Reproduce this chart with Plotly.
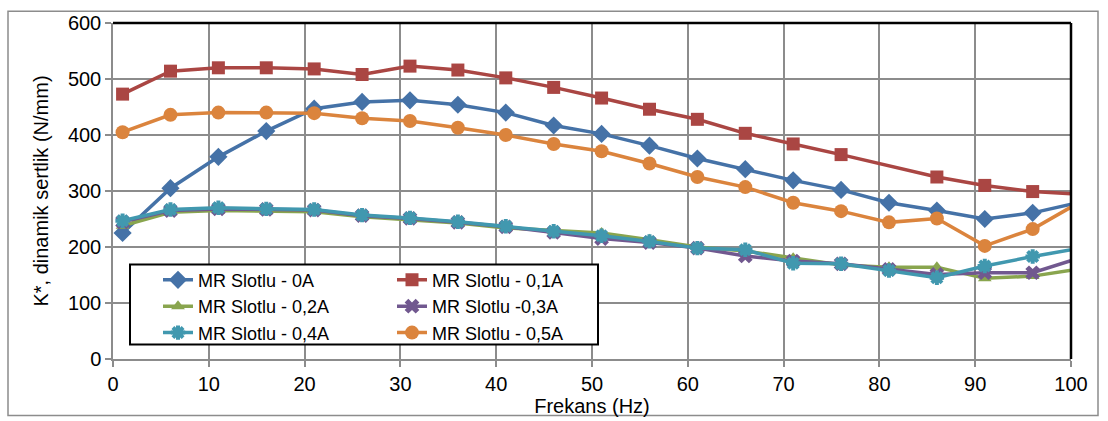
import plotly.graph_objects as go

# Frequency points (Hz); the last one lies just past the axis end and is clipped
frekans = [1, 6, 11, 16, 21, 26, 31, 36, 41, 46, 51, 56, 61, 66, 71, 76, 81, 86, 91, 96, 101]

# Dynamic stiffness K* (N/mm) for each current level
k_0A = [225, 305, 361, 407, 447, 459, 462, 454, 440, 417, 402, 381, 358, 339, 319, 302, 279, 265, 250, 261, 280]
k_01A = [473, 514, 520, 520, 518, 508, 523, 516, 502, 485, 466, 446, 428, 403, 384, 365, None, 325, 310, 299, 294]
k_02A = [238, 262, 265, 264, 263, 254, 249, 243, 234, 229, 225, 213, 200, 193, 180, 168, 164, 164, 144, 148, 161]
k_03A = [245, 265, 268, 267, 266, 256, 251, 244, 236, 226, 215, 208, 198, 184, 175, 170, 160, 151, 154, 154, 181]
k_04A = [247, 267, 270, 268, 267, 257, 252, 245, 237, 228, 220, 210, 198, 195, 171, 170, 158, 145, 166, 183, 198]
k_05A = [405, 436, 440, 440, 439, 430, 425, 413, 400, 384, 371, 349, 325, 307, 279, 264, 244, 251, 202, 232, 281]

series_names = ["MR Slotlu - 0A", "MR Slotlu - 0,1A", "MR Slotlu - 0,2A",
                "MR Slotlu -0,3A", "MR Slotlu - 0,4A", "MR Slotlu - 0,5A"]
series_values = [k_0A, k_01A, k_02A, k_03A, k_04A, k_05A]
series_colors = ["#4572A7", "#AA4643", "#89A54E", "#71588F", "#4198AF", "#DB843D"]
series_symbols = ["diamond", "square", "triangle-up", "x", "asterisk-open", "circle"]
series_sizes = [14, 13, 12, 13, 12, 14]
series_legend = ["legend", "legend2", "legend", "legend2", "legend", "legend2"]

FONT = "Liberation Sans, Arial, sans-serif"
W, H = 1108, 421
ML, MR, MT, MB = 113, 37, 14, 62
PW, PH = W - ML - MR, H - MT - MB


def px_x(p):
    return (p - ML) / PW


def px_y(p):
    return (H - MB - p) / PH


fig = go.Figure()
for name, vals, col, sym, size, leg in zip(series_names, series_values, series_colors,
                                          series_symbols, series_sizes, series_legend):
    marker = dict(symbol=sym, size=size, color=col)
    if sym == "asterisk-open":
        marker["line"] = dict(color=col, width=4)
    elif sym == "x":
        marker["line"] = dict(color=col, width=0)
    fig.add_trace(go.Scatter(
        x=frekans, y=vals, name=name, mode="lines+markers",
        line=dict(color=col, width=3.5), marker=marker,
        connectgaps=True, legend=leg,
    ))

grid_col = "#8c8c8c"
fig.update_xaxes(
    range=[0, 100], dtick=10, tick0=0, showgrid=True, gridcolor=grid_col, gridwidth=1.5,
    showline=True, linecolor=grid_col, linewidth=1.5, ticks="outside", ticklen=6,
    tickcolor=grid_col, tickwidth=1.5, zeroline=False,
    tickfont=dict(family=FONT, size=20, color="black"),
    title=dict(text="Frekans (Hz)", font=dict(family=FONT, size=20, color="black"), standoff=0),
)
fig.update_yaxes(
    range=[0, 600], dtick=100, showgrid=True, gridcolor=grid_col, gridwidth=1.5,
    showline=True, linecolor=grid_col, linewidth=1.5, ticks="outside", ticklen=6,
    tickcolor=grid_col, tickwidth=1.5, zeroline=False,
    tickfont=dict(family=FONT, size=20, color="black"),
    title=dict(text="K*, dinamik sertlik (N/mm)", font=dict(family=FONT, size=20, color="black"), standoff=14),
)

legend_style = dict(xanchor="left", yanchor="top", bgcolor="rgba(0,0,0,0)",
                    font=dict(family=FONT, size=18, color="black"), tracegroupgap=0,
                    borderwidth=0)
fig.update_layout(
    width=W, height=H, margin=dict(l=ML, r=MR, t=MT, b=MB),
    paper_bgcolor="white", plot_bgcolor="white",
    legend=dict(x=px_x(158), y=px_y(259), **legend_style),
    legend2=dict(x=px_x(392), y=px_y(259), **legend_style),
    shapes=[
        # outer chart border
        dict(type="rect", xref="paper", yref="paper", x0=px_x(8), x1=px_x(1098),
             y0=px_y(417), y1=px_y(2), line=dict(color="#8c8c8c", width=1.5), layer="below"),
        # plot frame top and right
        dict(type="line", xref="paper", yref="paper", x0=0, x1=1, y0=1, y1=1,
             line=dict(color="black", width=2.5)),
        dict(type="line", xref="paper", yref="paper", x0=1, x1=1, y0=0, y1=1,
             line=dict(color="black", width=2.5)),
        # legend frame
        dict(type="rect", xref="paper", yref="paper", x0=px_x(130), x1=px_x(598),
             y0=px_y(344), y1=px_y(262), line=dict(color="black", width=2),
             fillcolor="white", layer="above"),
    ],
)

fig.write_html("out.html")
